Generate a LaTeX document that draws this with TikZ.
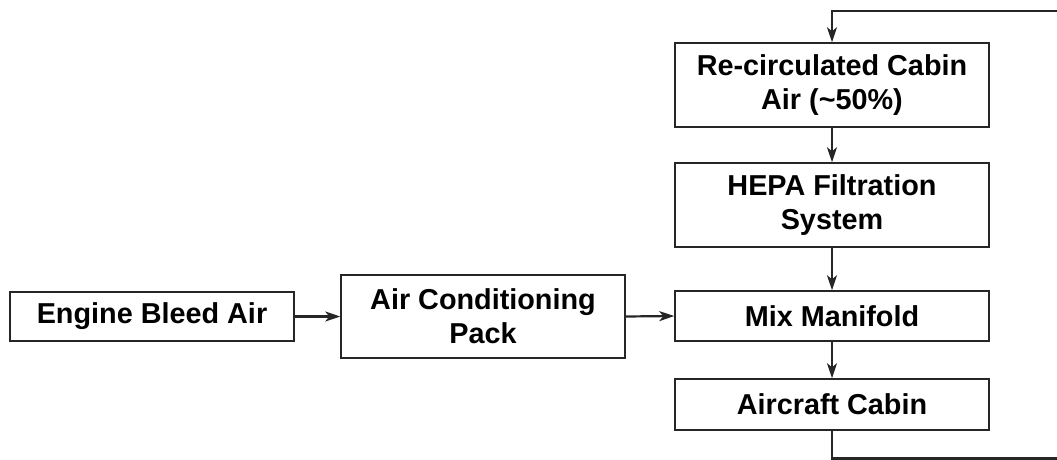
\documentclass[tikz,border=0pt]{standalone}
\usepackage{fontspec}
\setmainfont{Liberation Sans}
\usetikzlibrary{arrows.meta}
\begin{document}
\begin{tikzpicture}[x=1pt,y=-1pt,
  box/.style={draw=black!85, line width=1.5pt, rectangle, align=center,
    font=\fontsize{28.8}{34}\selectfont\bfseries, inner sep=0pt},
  conn/.style={draw=black!85, line width=2.2pt, -{Stealth[length=15pt,width=10pt,inset=4pt]}}]
\useasboundingbox (0,0) rectangle (1057,460);
\clip (0,0) rectangle (1057,460);
\node[box, minimum width=284pt, minimum height=49pt] (bleed) at (152,316.5) {Engine Bleed Air};
\node[box, minimum width=284pt, minimum height=83pt] (pack) at (483,316.5) {Air Conditioning\\Pack};
\node[box, minimum width=314pt, minimum height=50pt] (mix) at (832,316) {Mix Manifold};
\node[box, minimum width=314pt, minimum height=51pt] (cabin) at (832,404.5) {Aircraft Cabin};
\node[box, minimum width=314pt, minimum height=84pt] (hepa) at (832,205) {HEPA Filtration\\System};
\node[box, minimum width=314pt, minimum height=84pt] (recirc) at (832,85) {Re-circulated Cabin\\Air (\textasciitilde50\%)};
\coordinate (lb) at (832,458.5);
\coordinate (rb) at (1080,458.5);
\coordinate (rt) at (1080,11);
\coordinate (lt) at (832,11);
\draw[conn] (bleed.east) -- (pack.west);
\draw[conn] (pack.east) -- (mix.west);
\draw[conn] (recirc.south) -- (hepa.north);
\draw[conn] (hepa.south) -- (mix.north);
\draw[conn] (mix.south) -- (cabin.north);
\draw[conn] (cabin.south) -- (lb) -- (rb) -- (rt) -- (lt) -- (recirc.north);
\end{tikzpicture}
\end{document}
